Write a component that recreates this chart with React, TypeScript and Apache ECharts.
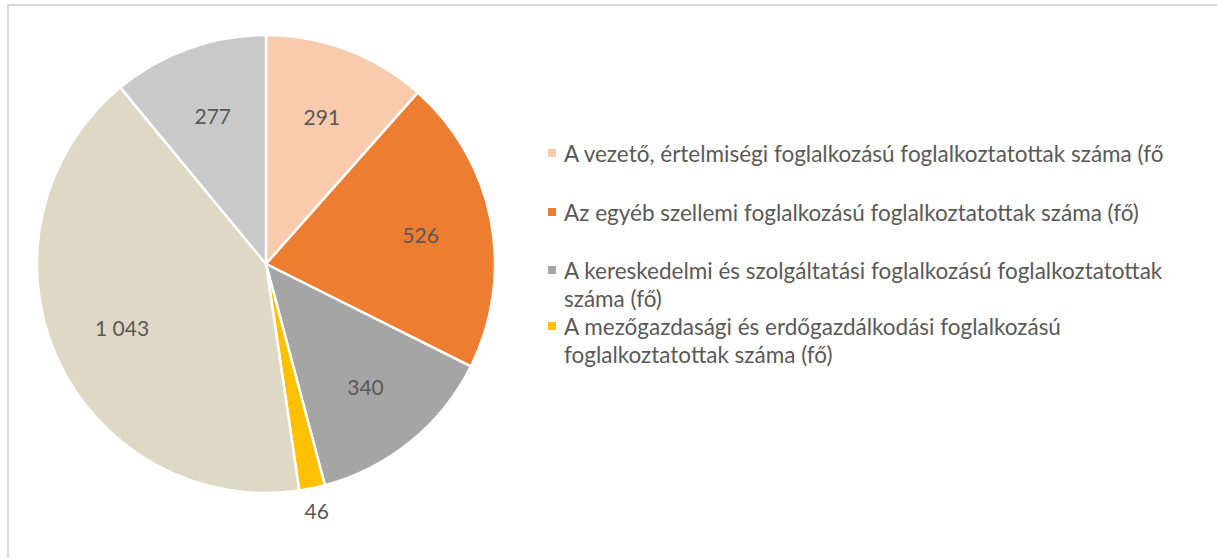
import React, { useEffect, useRef } from "react";
import * as echarts from "echarts";

const categories = [
  "A vezető, értelmiségi foglalkozású foglalkoztatottak száma (fő)",
  "Az egyéb szellemi foglalkozású foglalkoztatottak száma (fő)",
  "A kereskedelmi és szolgáltatási foglalkozású foglalkoztatottak száma (fő)",
  "A mezőgazdasági és erdőgazdálkodási foglalkozású foglalkoztatottak száma (fő)",
  "Az ipari, építőipari foglalkozású foglalkoztatottak száma (fő)",
  "Az egyéb foglalkozású foglalkoztatottak száma (fő)",
];
const values = [291, 526, 340, 46, 1043, 277];
const colors = ["#F8CBAD", "#ED7D31", "#A5A5A5", "#FFC000", "#DDD9C4", "#C9C9C9"];
// legend as shown in the reference (only the first four entries are visible)
const legendLines = [
  ["A vezető, értelmiségi foglalkozású foglalkoztatottak száma (fő"],
  ["Az egyéb szellemi foglalkozású foglalkoztatottak száma (fő)"],
  ["A kereskedelmi és szolgáltatási foglalkozású foglalkoztatottak", "száma (fő)"],
  ["A mezőgazdasági és erdőgazdálkodási foglalkozású", "foglalkoztatottak száma (fő)"],
];

const fmt = (v: number) => String(v).replace(/\B(?=(\d{3})+(?!\d))/g, " ");

export default function App() {
  const ref = useRef<HTMLDivElement>(null);
  useEffect(() => {
    if (!ref.current) return;
    const chart = echarts.init(ref.current, undefined, { renderer: "svg" });
    const total = values.reduce((a, b) => a + b, 0);
    const center = [266, 264];
    const R = 229;
    const font = "Lato, 'Open Sans', sans-serif";
    const labelStyle = { color: "#595959", fontSize: 21, fontFamily: font };

    const legendTops = [153, 212, 270, 326];
    const lineH = 28;
    const legendGraphics: any[] = [];
    legendLines.forEach((lines, i) => {
      const y = legendTops[i];
      legendGraphics.push({
        type: "rect",
        shape: { x: 548, y: y - 4, width: 8, height: 8 },
        style: { fill: colors[i] },
      });
      lines.forEach((ln, j) => {
        legendGraphics.push({
          type: "text",
          x: 564,
          y: y + j * lineH,
          style: {
            text: ln,
            fill: "#595959",
            fontSize: 22.5,
            fontFamily: font,
            verticalAlign: "middle",
            textAlign: "left",
          },
        });
      });
    });

    chart.setOption({
      animation: false,
      backgroundColor: "#ffffff",
      graphic: [
        {
          type: "rect",
          shape: { x: 8, y: 5, width: 1400, height: 800 },
          style: { fill: "none", stroke: "#D9D9D9", lineWidth: 2 },
          silent: true,
        },
        ...legendGraphics,
      ],
      series: [
        {
          type: "pie",
          center,
          radius: [0, R],
          startAngle: 90,
          clockwise: true,
          label: { show: false },
          labelLine: { show: false },
          itemStyle: { borderColor: "#ffffff", borderWidth: 2.5 },
          emphasis: { disabled: true },
          data: values.map((v, i) => ({
            value: v,
            name: categories[i],
            itemStyle: { color: colors[i] },
          })),
        },
        {
          type: "pie",
          center,
          radius: [80, R],
          startAngle: 90,
          clockwise: true,
          silent: true,
          itemStyle: { color: "rgba(0,0,0,0)", borderWidth: 0 },
          emphasis: { disabled: true },
          labelLine: { show: false },
          data: values.map((v, i) => ({
            value: v,
            name: categories[i],
            label: {
              show: v / total >= 0.03,
              position: "inside",
              formatter: () => fmt(v),
              ...labelStyle,
            },
          })),
        },
        {
          type: "pie",
          center,
          radius: [R, R + 40],
          startAngle: 90,
          clockwise: true,
          silent: true,
          itemStyle: { color: "rgba(0,0,0,0)", borderWidth: 0 },
          emphasis: { disabled: true },
          labelLine: { show: false },
          data: values.map((v, i) => ({
            value: v,
            name: categories[i],
            label: {
              show: v / total < 0.03,
              position: "inside",
              formatter: () => fmt(v),
              ...labelStyle,
            },
          })),
        },
      ],
    });
    return () => chart.dispose();
  }, []);
  return (
    <div
      ref={ref}
      style={{ position: "absolute", left: 0, top: 0, width: 1217, height: 558 }}
    />
  );
}
